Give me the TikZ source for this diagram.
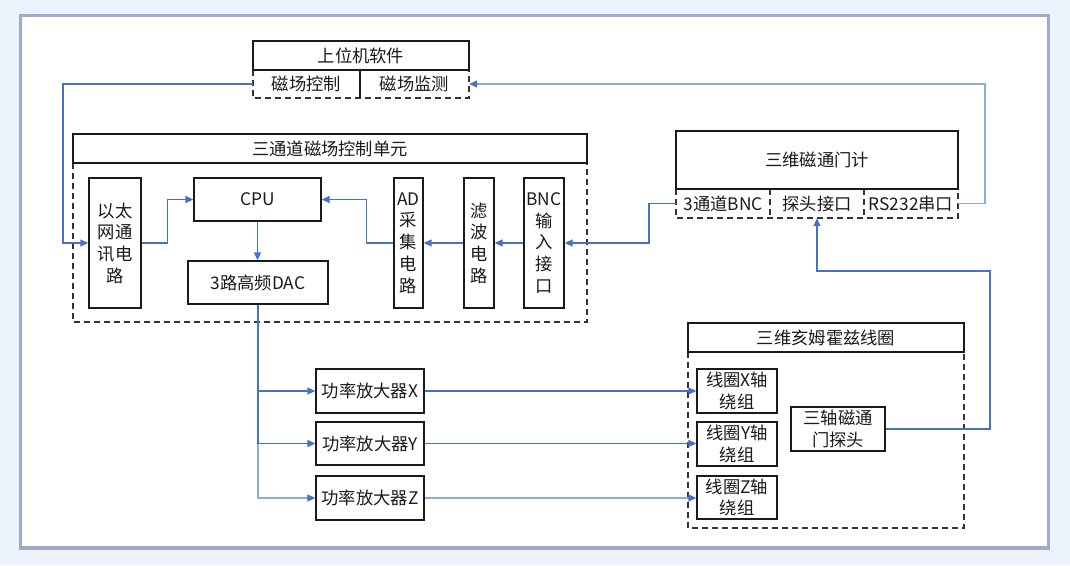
\documentclass[tikz,border=0pt]{standalone}
\usepackage{fontspec}
\setmainfont{Noto Sans CJK SC}
\usetikzlibrary{arrows.meta}
\definecolor{bgblue}{HTML}{EDF3FD}
\definecolor{framec}{HTML}{A4A8C8}
\definecolor{lineblue}{HTML}{4472C4}
\definecolor{lightblue}{HTML}{8EA9DD}
\definecolor{dashc}{HTML}{333333}
\definecolor{boxc}{HTML}{1A1A1A}
\begin{document}
\begin{tikzpicture}[x=1pt,y=-1pt,
  box/.style={draw=boxc, line width=1.3pt, fill=white, inner sep=0pt, align=center, text=boxc, font=\fontsize{17.3}{21.7}\selectfont},
  lbl/.style={inner sep=0pt, align=center, text=boxc, font=\fontsize{17.3}{21.7}\selectfont},
  grp/.style={draw=dashc, line width=1.3pt, dash pattern=on 6pt off 4pt},
  solidline/.style={draw=boxc, line width=1.3pt},
  conn/.style={draw=lineblue, line width=1.5pt, -{Triangle[length=8pt,width=7pt,color=lineblue]}},
  connl/.style={draw=lightblue, line width=1.5pt, -{Triangle[length=8pt,width=7pt,color=lineblue]}},
  plainl/.style={draw=lineblue, line width=1.5pt}]
\useasboundingbox (0,0) rectangle (1070,565);
\fill[bgblue] (0,0) rectangle (1070,565);
\draw[framec, line width=3.5pt, fill=white] (20.5,15.5) rectangle (1048.5,548);

% 上位机软件
\draw[grp] (253,70) -- (253,98) -- (469,98) -- (469,70);
\node[box, minimum width=216pt, minimum height=29pt] (soft) at (361,55.5) {上位机软件};
\draw[solidline] (360,70) -- (360,98);
\node[lbl, minimum width=107pt, minimum height=28pt] (ctrl) at (306.5,84) {磁场控制};
\node[lbl, minimum width=109pt, minimum height=28pt] (mon) at (414.5,84) {磁场监测};

% 三通道磁场控制单元
\draw[grp] (73,163) -- (73,322) -- (587,322) -- (587,163);
\node[box, minimum width=514pt, minimum height=29pt] (unit) at (330,148.5) {三通道磁场控制单元};
\node[box, minimum width=52pt, minimum height=130pt] (eth) at (115,243) {以太\\网通\\讯电\\路};
\node[box, minimum width=127pt, minimum height=43pt] (cpu) at (257.5,199.5) {CPU};
\node[box, minimum width=140pt, minimum height=43pt] (dac) at (258,282.5) {3路高频DAC};
\node[box, minimum width=29pt, minimum height=130pt] (ad) at (408.5,243) {AD\\采\\集\\电\\路};
\node[box, minimum width=30pt, minimum height=130pt] (filt) at (479,243) {滤\\波\\电\\路};
\node[box, minimum width=40pt, minimum height=130pt] (bnc) at (544,243) {BNC\\输\\入\\接\\口};

% 三维磁通门计
\draw[grp] (676,189) -- (676,218) -- (958,218) -- (958,189);
\draw[grp] (770,189) -- (770,218);
\draw[grp] (864,189) -- (864,218);
\node[box, minimum width=282pt, minimum height=58pt] (flux) at (817,160) {三维磁通门计};
\node[lbl, minimum width=94pt, minimum height=29pt] (fbnc) at (723,203.5) {3通道BNC};
\node[lbl, minimum width=94pt, minimum height=29pt] (port) at (817,203.5) {探头接口};
\node[lbl, minimum width=94pt, minimum height=29pt] (rs) at (911,203.5) {RS232串口};

% 功率放大器
\node[box, minimum width=108pt, minimum height=44pt] (ampX) at (370,391) {功率放大器X};
\node[box, minimum width=108pt, minimum height=43pt] (ampY) at (370,443.5) {功率放大器Y};
\node[box, minimum width=108pt, minimum height=44pt] (ampZ) at (370,498) {功率放大器Z};

% 三维亥姆霍兹线圈
\draw[grp] (688,352) -- (688,528) -- (964,528) -- (964,352);
\node[box, minimum width=276pt, minimum height=29pt] (coil) at (826,337.5) {三维亥姆霍兹线圈};
\node[box, minimum width=80pt, minimum height=44pt] (coilX) at (737,391) {线圈X轴\\绕组};
\node[box, minimum width=80pt, minimum height=44pt] (coilY) at (737,444) {线圈Y轴\\绕组};
\node[box, minimum width=80pt, minimum height=43pt] (coilZ) at (737,497.5) {线圈Z轴\\绕组};
\node[box, minimum width=94pt, minimum height=44pt] (probe) at (838,429) {三轴磁通\\门探头};

% connectors
\draw[conn] (ctrl.west) -- ++(-190,0) |- (eth.west);
\draw[conn] (eth.east) -- ++(26,0) |- (cpu.west);
\draw[conn] (ad.west) -- ++(-27,0) |- (cpu.east);
\draw[conn] (filt.west) -- (ad.east);
\draw[conn] (bnc.west) -- (filt.east);
\draw[conn] (cpu.south) -- (cpu.south |- dac.north);
\draw[conn] (fbnc.west) -- ++(-27,0) |- (bnc.east);
\draw[connl] (rs.east) -- ++(27,0) |- (mon.east);
\coordinate (pturn) at (990,271);
\draw[conn] (probe.east) -| (pturn) -| (port.south);

\draw[plainl] (dac.south) -- (dac.south |- ampY.west);
\draw[conn] (dac.south |- ampX.west) -- (ampX.west);
\draw[conn] (dac.south |- ampY.west) -- (ampY.west);
\draw[connl] (dac.south |- ampY.west) |- (ampZ.west);
\draw[conn] (ampX.east) -- (coilX.west);
\draw[conn] (ampY.east) -- (ampY.east -| coilY.west);
\draw[connl] (ampZ.east) -- (ampZ.east -| coilZ.west);
\end{tikzpicture}
\end{document}
